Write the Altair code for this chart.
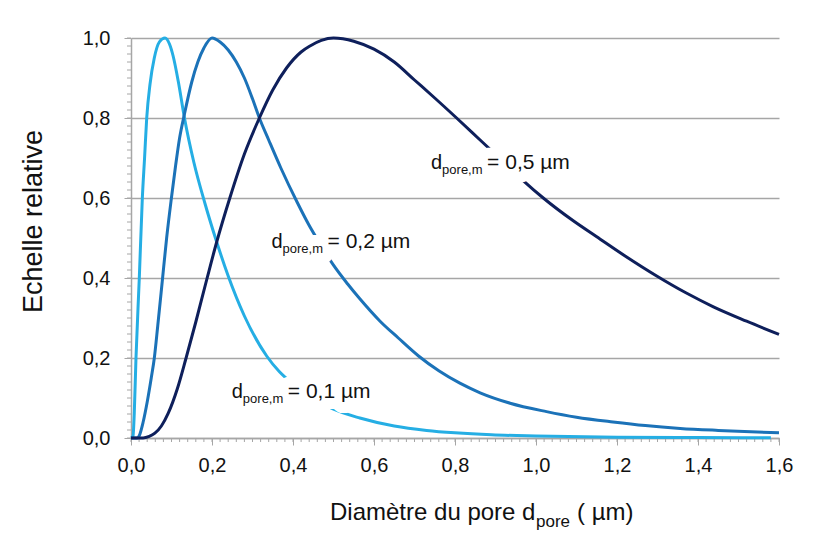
import altair as alt
import pandas as pd

# ---- data ----
series_names = ["0,1", "0,2", "0,5"]
series_colors = ["#25aee4", "#1b72b8", "#0e1f5b"]

x_01 = [0.0, 0.005, 0.008, 0.0123, 0.0205, 0.028, 0.0335, 0.0388, 0.047, 0.0575, 0.070,
        0.084, 0.095, 0.104, 0.117, 0.132, 0.155, 0.183, 0.2116, 0.24, 0.28, 0.335,
        0.366, 0.40, 0.43, 0.46, 0.50, 0.565, 0.65, 0.73, 0.80, 0.89, 1.0, 1.2, 1.4, 1.58]
y_01 = [0.0, 0.005, 0.06, 0.2, 0.4, 0.6, 0.7, 0.8, 0.885, 0.95, 0.99,
        1.0, 0.985, 0.955, 0.89, 0.80, 0.69, 0.585, 0.49, 0.405, 0.305, 0.205,
        0.166, 0.135, 0.113, 0.093, 0.072, 0.05, 0.03, 0.019, 0.013, 0.008, 0.005,
        0.002, 0.001, 0.0005]

x_02 = [0.0, 0.015, 0.02, 0.03, 0.04, 0.05, 0.0576, 0.066, 0.077, 0.088, 0.0998, 0.11,
        0.12, 0.132, 0.15, 0.165, 0.18, 0.2, 0.22, 0.24, 0.26, 0.28, 0.30, 0.317, 0.34,
        0.37, 0.41, 0.438, 0.47, 0.50, 0.535, 0.565, 0.615, 0.66, 0.71, 0.76, 0.812,
        0.862, 0.936, 1.026, 1.1, 1.19, 1.27, 1.356, 1.45, 1.6]
y_02 = [0.0, 0.0, 0.005, 0.04, 0.09, 0.15, 0.2, 0.28, 0.39, 0.5, 0.6, 0.68,
        0.75, 0.81, 0.89, 0.94, 0.975, 1.0, 0.99, 0.97, 0.94, 0.9, 0.848, 0.80, 0.745,
        0.675, 0.59, 0.535, 0.48, 0.432, 0.385, 0.348, 0.292, 0.25, 0.205, 0.168, 0.137,
        0.113, 0.087, 0.066, 0.052, 0.04, 0.031, 0.024, 0.019, 0.013]

x_05 = [0.0, 0.03, 0.045, 0.059, 0.075, 0.092, 0.115, 0.136, 0.16, 0.188, 0.2116,
        0.244, 0.28, 0.317, 0.35, 0.384, 0.42, 0.442, 0.47, 0.5, 0.55, 0.6, 0.65,
        0.7, 0.75, 0.804, 0.862, 0.92, 0.969, 1.018, 1.092, 1.15, 1.22, 1.298, 1.37,
        1.438, 1.52, 1.6]
y_05 = [0.0, 0.0, 0.004, 0.012, 0.03, 0.062, 0.125, 0.2, 0.29, 0.4, 0.49,
        0.6, 0.71, 0.80, 0.87, 0.925, 0.965, 0.98, 0.994, 1.0, 0.992, 0.972, 0.94,
        0.895, 0.85, 0.8, 0.745, 0.69, 0.643, 0.6, 0.543, 0.503, 0.455, 0.405, 0.363,
        0.328, 0.292, 0.259]

x_ticks = [0.0, 0.2, 0.4, 0.6, 0.8, 1.0, 1.2, 1.4, 1.6]
y_ticks = [0.0, 0.2, 0.4, 0.6, 0.8, 1.0]
x_minor = [round(i * 0.02, 2) for i in range(81)]
y_minor = [round(i * 0.02, 2) for i in range(51)]

label_x = [0.249, 0.347, 0.741]
label_y = [0.099, 0.475, 0.672]
label_rest = ["= 0,1 \u00b5m", "= 0,2 \u00b5m", "= 0,5 \u00b5m"]

# ---- build tables ----
rows = []
for name, xs, ys in zip(series_names, [x_01, x_02, x_05], [y_01, y_02, y_05]):
    for i, (a, b) in enumerate(zip(xs, ys)):
        rows.append({"serie": name, "x": a, "y": b, "o": i})
df = pd.DataFrame(rows)

labels = pd.DataFrame({"x": label_x, "y": label_y, "rest": label_rest,
                       "d": ["d"] * 3, "sub": ["pore,m"] * 3})
xminor_df = pd.DataFrame({"v": x_minor})
yminor_df = pd.DataFrame({"v": y_minor})

FONT = "Liberation Sans"
GRID = "#a6a6a6"
TXT = "#111111"
label_expr = "replace(format(datum.value, '.1f'), '.', ',')"

xscale = alt.Scale(domain=[0, 1.6], nice=False, zero=False)
yscale = alt.Scale(domain=[0, 1.0], nice=False, zero=False)

major_x = alt.Axis(values=x_ticks, labelExpr=label_expr, title=None, grid=False,
                   tickSize=7, tickColor=GRID, domainColor=GRID, domainWidth=1.5,
                   labelFont=FONT, labelFontSize=20, labelColor=TXT, labelFlush=False,
                   labelPadding=10, orient="bottom")
major_y = alt.Axis(values=y_ticks, labelExpr=label_expr, title="Echelle relative",
                   grid=True, gridColor=GRID, gridWidth=1.5,
                   tickSize=7, tickColor=GRID, domainColor=GRID, domainWidth=1.5,
                   labelFont=FONT, labelFontSize=20, labelColor=TXT, labelFlush=False,
                   labelPadding=14, orient="left",
                   titleFont=FONT, titleFontSize=27, titleFontWeight="normal",
                   titleColor=TXT, titleAngle=270, titleX=-98, titleY=183,
                   titleAlign="center", titleBaseline="middle")

color = alt.Color("serie:N", scale=alt.Scale(domain=series_names, range=series_colors),
                  legend=None)

lines = alt.Chart(df).mark_line(strokeWidth=3, interpolate="monotone").encode(
    x=alt.X("x:Q", scale=xscale, axis=major_x),
    y=alt.Y("y:Q", scale=yscale, axis=major_y),
    color=color,
    order="o:Q",
)

ytick_minor = alt.Chart(yminor_df).mark_rule(color=GRID, strokeWidth=1).encode(
    y=alt.Y("v:Q", scale=yscale), x=alt.value(-4), x2=alt.value(0))
xtick_minor = alt.Chart(xminor_df).mark_rule(color=GRID, strokeWidth=1).encode(
    x=alt.X("v:Q", scale=xscale), y=alt.value(400), y2=alt.value(404))


def text_layer(field, size, dx, dy, halo):
    kw = dict(align="left", baseline="alphabetic", font=FONT, fontSize=size, dx=dx, dy=dy)
    if halo:
        kw.update(stroke="white", strokeWidth=22, strokeJoin="round", fill="white")
    else:
        kw.update(fill=TXT)
    return alt.Chart(labels).mark_text(**kw).encode(
        x=alt.X("x:Q", scale=xscale), y=alt.Y("y:Q", scale=yscale), text=f"{field}:N")


halos = [text_layer("d", 20, 0, 0, True), text_layer("sub", 13, 11, 5, True),
         text_layer("rest", 21, 56, 0, True)]
texts = [text_layer("d", 20, 0, 0, False), text_layer("sub", 13, 11, 5, False),
         text_layer("rest", 21, 56, 0, False)]

dummy = pd.DataFrame({"k": [0]})
xt_main = alt.Chart(dummy).mark_text(text="Diamètre du pore d", align="left",
                                     baseline="alphabetic", font=FONT, fontSize=24,
                                     fill=TXT).encode(x=alt.value(199), y=alt.value(482))
xt_sub = alt.Chart(dummy).mark_text(text="pore", align="left", baseline="alphabetic",
                                    font=FONT, fontSize=17, fill=TXT).encode(
    x=alt.value(405), y=alt.value(489))
xt_end = alt.Chart(dummy).mark_text(text="( \u00b5m)", align="left", baseline="alphabetic",
                                    font=FONT, fontSize=24, fill=TXT).encode(
    x=alt.value(446), y=alt.value(482))

chart = alt.layer(ytick_minor, xtick_minor, lines, *halos, *texts,
                  xt_main, xt_sub, xt_end).properties(
    width=648, height=400, autosize=alt.AutoSizeParams(type="none"),
    padding={"left": 123, "top": 30, "right": 30, "bottom": 100},
    background="white",
).configure_view(strokeWidth=0)

chart.save("out.html", embed_options={"renderer": "svg", "actions": False})
